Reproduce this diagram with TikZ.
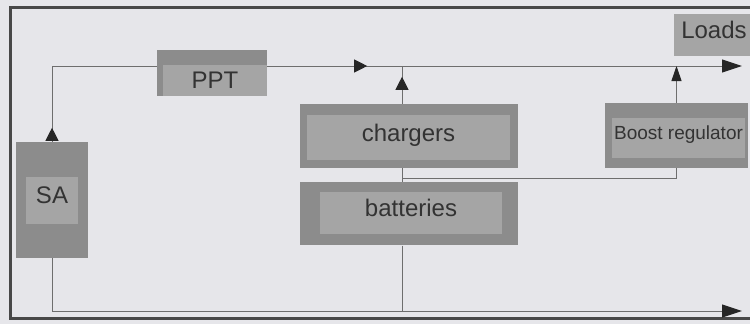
\documentclass[tikz,border=0pt]{standalone}
\usepackage{fontspec}
\setmainfont{Liberation Sans}
\usetikzlibrary{arrows.meta,positioning,decorations.markings}

\definecolor{paper}{HTML}{E6E6EA}
\definecolor{framec}{HTML}{484848}
\definecolor{boxdark}{HTML}{8C8C8C}
\definecolor{boxlight}{HTML}{A5A5A5}
\definecolor{ink}{HTML}{333333}
\definecolor{wire}{HTML}{6E6E6E}
\definecolor{tipc}{HTML}{262626}

\begin{document}
\begin{tikzpicture}[x=1pt,y=-1pt,
  every node/.style={font=\fontsize{24}{28}\selectfont,text=ink,inner sep=0pt},
  blk/.style={fill=boxdark},
  core/.style={fill=boxlight,text depth=10pt},
  link/.style={draw=wire,line width=1pt},
  tip/.style={-{Triangle[length=20pt,width=13pt,color=tipc]}},
  midtip/.style={postaction={decorate},decoration={markings,
    mark=at position #1 with {\arrow{Triangle[length=13pt,width=13pt,color=tipc]}}}}]
  \useasboundingbox (0,0) rectangle (750,324);
  \fill[paper] (0,0) rectangle (750,324);
  \draw[framec,line width=3pt] (10.5,7.5) rectangle (756,318.5);

  % blocks
  \node[blk,minimum width=72pt,minimum height=116pt] (sa) at (52,200) {};
  \node[core,minimum width=52pt,minimum height=47pt] (sa core) at (52,200.5) {SA};
  \node[blk,minimum width=110pt,minimum height=46pt] (ppt) at (212,73) {};
  \node[core,text depth=0pt,minimum width=104pt,minimum height=31pt] (ppt core) at (215,80.5) {PPT};
  \node[blk,minimum width=218pt,minimum height=64pt] (chg) at (409,136) {};
  \node[core,minimum width=203pt,minimum height=45pt] (chg core) at (408.5,137.5) {chargers};
  \node[blk,minimum width=218pt,minimum height=63pt,below=14pt of chg] (bat) {};
  \node[core,minimum width=182pt,minimum height=42pt] (bat core) at (411,213) {batteries};
  \node[blk,minimum width=143pt,minimum height=65pt] (bst) at (676.5,135.5) {};
  \node[core,font=\fontsize{19}{22}\selectfont,minimum width=133pt,minimum height=40pt] (bst core) at (678.5,138) {Boost regulator};
  \node[core,minimum width=80pt,minimum height=42pt] (loads) at (714,35) {Loads};

  % buses
  \coordinate (busT) at (742,66);
  \coordinate (busB) at (742,311);
  \coordinate (jc) at (402,178);

  \draw[link,midtip=14pt] (sa.north) |- (ppt.west |- busT);
  \draw[link,tip,midtip=100pt] (ppt.east |- busT) -- (busT);
  \draw[link,midtip=27pt] (jc |- chg.north) -- (jc |- busT);
  \draw[link,-{Triangle[length=15pt,width=10pt,color=tipc]}] (bst.north) -- (bst.north |- busT);
  \draw[link] (jc |- chg.south) -- (jc |- bat.north);
  \draw[link] (jc) -| (bst.south);
  \draw[link] (jc |- bat.south) -- (jc |- busB);
  \draw[link,tip] (sa.south) |- (busB);
\end{tikzpicture}
\end{document}
